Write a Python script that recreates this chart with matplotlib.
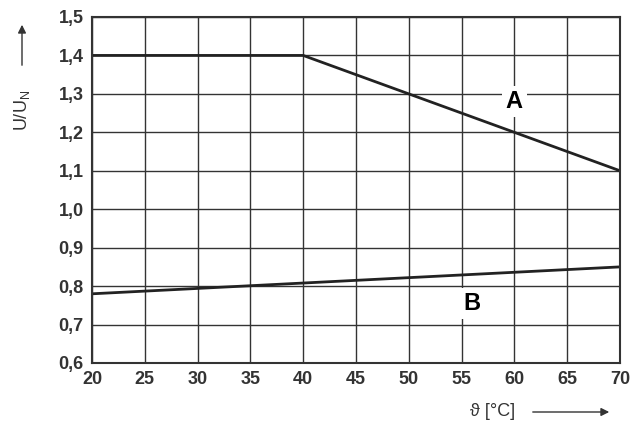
import matplotlib.pyplot as plt

# curve data
a_x = [20, 40, 70]
a_y = [1.4, 1.4, 1.1]
b_x = [20, 70]
b_y = [0.78, 0.85]
x_ticks = list(range(20, 71, 5))
y_ticks = [0.6, 0.7, 0.8, 0.9, 1.0, 1.1, 1.2, 1.3, 1.4, 1.5]

plt.rcParams['font.family'] = ['Liberation Sans', 'DejaVu Sans']

fig = plt.figure(figsize=(6.4, 4.37), dpi=100)
ax = fig.add_axes([92 / 640, 1 - 363 / 437, 528 / 640, 346 / 437])

ax.plot(a_x, a_y, color="#222", lw=2)
ax.plot(b_x, b_y, color="#222", lw=2)

ax.set_xlim(20, 70)
ax.set_ylim(0.6, 1.5)
ax.set_xticks(x_ticks)
ax.set_yticks(y_ticks)
ax.set_xticklabels([str(v) for v in x_ticks], fontsize=13, fontweight="bold", color="#333")
ax.set_yticklabels([f"{v:.1f}".replace(".", ",") for v in y_ticks],
                   fontsize=13, fontweight="bold", color="#333")
ax.grid(True, color="#333", lw=1)
for s in ax.spines.values():
    s.set_color("#333")
    s.set_linewidth(1.5)
ax.tick_params(length=0, pad=6)

ax.text(60, 1.28, "A", fontsize=17, fontweight="bold", ha="center", va="center",
        bbox=dict(facecolor="white", edgecolor="none", pad=3))
ax.text(56, 0.755, "B", fontsize=17, fontweight="bold", ha="center", va="center",
        bbox=dict(facecolor="white", edgecolor="none", pad=3))

# axis labels with arrows
fig.text(22 / 640, 1 - 110 / 437, "U/U$_\\mathregular{N}$", rotation=90, fontsize=13,
         color="#333", ha="center", va="center")
fig.add_artist(plt.matplotlib.patches.FancyArrowPatch(
    (22 / 640, 1 - 68 / 437), (22 / 640, 1 - 22 / 437), transform=fig.transFigure,
    arrowstyle="-|>", mutation_scale=12, color="#333", lw=1))
fig.text(515 / 640, 1 - 412 / 437, "ϑ [°C]", fontsize=13, color="#333",
         ha="right", va="center")
fig.add_artist(plt.matplotlib.patches.FancyArrowPatch(
    (530 / 640, 1 - 412 / 437), (612 / 640, 1 - 412 / 437), transform=fig.transFigure,
    arrowstyle="-|>", mutation_scale=12, color="#333", lw=1))

fig.savefig("out.png", dpi=100)
